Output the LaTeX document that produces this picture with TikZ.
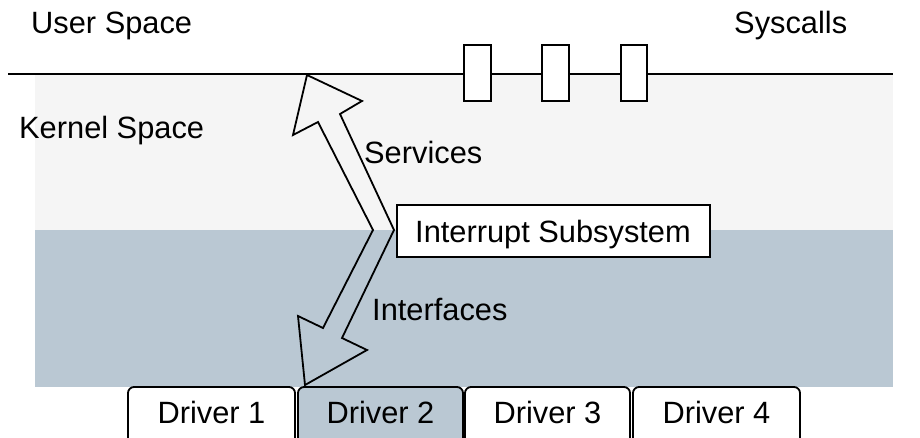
\documentclass[tikz,border=0pt]{standalone}
\usepackage{fontspec}
\setmainfont{Liberation Sans}
\definecolor{kernelgray}{HTML}{F5F5F5}
\definecolor{drvblue}{HTML}{BAC8D3}
\begin{document}
\begin{tikzpicture}[x=1pt,y=-1pt,
  txt/.style={inner sep=0pt,font=\fontsize{30.8}{36}\selectfont},
  lbl/.style={txt,anchor=base west},
  ctr/.style={txt,anchor=base},
  sysbox/.style={draw,line width=1.8pt,fill=white},
  drvbox/.style={draw,line width=1.8pt,rounded corners=6pt},
  stroke/.style={line width=1.8pt,line join=miter}]
\clip (0,0) rectangle (920,437);
\fill[white] (0,0) rectangle (920,437);
% backgrounds
\fill[kernelgray] (35,74) rectangle (893,230);
\fill[drvblue] (35,230) rectangle (893,387);
% user/kernel boundary line
\coordinate (lineL) at (8,74);
\coordinate (lineR) at (893,74);
\draw[stroke] (lineL) -- (lineR);
% syscall boxes
\draw[sysbox] (464,45) rectangle (491,101);
\draw[sysbox] (542,45) rectangle (569,101);
\draw[sysbox] (621,45) rectangle (647,101);
% labels
\node[lbl] (us) at (31,33) {User Space};
\node[lbl] (sc) at (734,33) {Syscalls};
\node[lbl] (ks) at (19,138) {Kernel Space};
\node[lbl] (sv) at (364,163) {Services};
\node[lbl] (if) at (372,320) {Interfaces};
% interrupt subsystem
\draw[sysbox] (397,205) rectangle (710,257);
\node[ctr] (irq) at (553,242) {Interrupt Subsystem};
% double arrow
\draw[stroke] (307,75) -- (362,101) -- (340,114) -- (394,230) -- (342,338) -- (367,350)
  -- (305,385) -- (298,316) -- (323,328) -- (373,230) -- (318,122) -- (293,135) -- cycle;
% drivers
\draw[drvbox,fill=white] (128,387) rectangle (295,447);
\draw[drvbox,fill=drvblue] (298,387) rectangle (463,447);
\draw[drvbox,fill=white] (465,387) rectangle (630,447);
\draw[drvbox,fill=white] (633,387) rectangle (800,447);
\node[ctr] (d1) at (211.5,423) {Driver 1};
\node[ctr] (d2) at (380.5,423) {Driver 2};
\node[ctr] (d3) at (547.5,423) {Driver 3};
\node[ctr] (d4) at (716.5,423) {Driver 4};
\end{tikzpicture}
\end{document}
